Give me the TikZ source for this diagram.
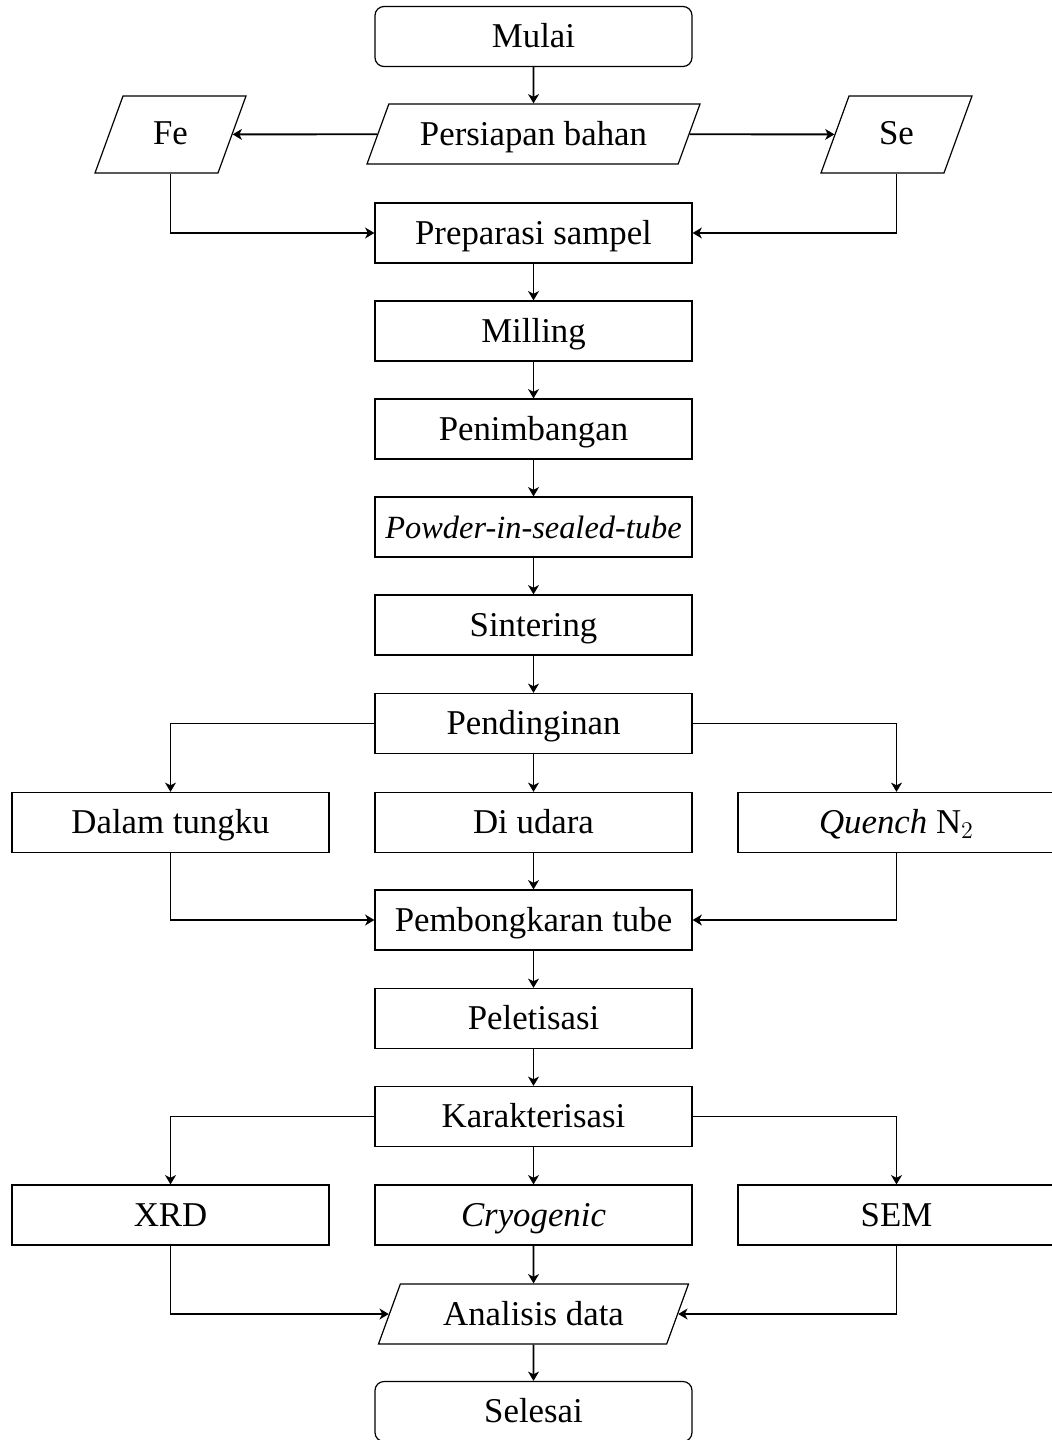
\documentclass[tikz,border=0pt]{standalone}
\usepackage{fontspec}
\setmainfont{Liberation Serif}
\usetikzlibrary{shapes.geometric,arrows.meta}
\tikzset{
  base/.style={draw, line width=0.6pt, inner xsep=0pt, inner ysep=0pt, align=center,
    font=\fontsize{17.4}{20}\selectfont, text height=20.5pt, text depth=9.5pt},
  proc/.style={base, rectangle, minimum width=158.5pt, minimum height=30pt},
  term/.style={proc, rounded corners=4.5pt},
  io/.style={base, trapezium, trapezium left angle=70, trapezium right angle=110,
    trapezium stretches body},
  iobig/.style={io, text height=24pt, text depth=14.5pt},
  conn/.style={line width=0.95pt, -{Stealth[length=4.6pt,width=5.4pt,inset=1.3pt]}}
}
\begin{document}
\begin{tikzpicture}[x=0.5pt,y=-0.5pt]
\useasboundingbox (0,0) rectangle (1052,1440);
\clip (0,0) rectangle (1052,1440);
\def\cx{533.5}
\def\lx{170.5}
\def\rx{896.5}
\node[term] (mulai) at (\cx,36.5) {Mulai};
\node[io, minimum width=166.5pt] (persiapan) at (\cx,134) {Persiapan bahan};
\node[iobig, minimum width=75.5pt] (fe) at (\lx,134.5) {Fe};
\node[iobig, minimum width=75.5pt] (se) at (\rx,134.5) {Se};
\node[proc] (prep) at (\cx,233) {Preparasi sampel};
\node[proc] (mill) at (\cx,331) {Milling};
\node[proc] (timbang) at (\cx,429) {Penimbangan};
\node[proc, font=\fontsize{16.2}{19}\selectfont\itshape] (powder) at (\cx,527) {Powder-in-sealed-tube};
\node[proc] (sinter) at (\cx,625) {Sintering};
\node[proc] (dingin) at (\cx,723.5) {Pendinginan};
\node[proc] (tungku) at (\lx,822.5) {Dalam tungku};
\node[proc] (udara) at (\cx,822.5) {Di udara};
\node[proc] (quench) at (\rx,822.5) {\itshape Quench\/\upshape{} N$_2$};
\node[proc] (bongkar) at (\cx,920) {Pembongkaran tube};
\node[proc] (pelet) at (\cx,1018.5) {Peletisasi};
\node[proc] (karak) at (\cx,1116.5) {Karakterisasi};
\node[proc] (xrd) at (\lx,1215) {XRD};
\node[proc] (cryo) at (\cx,1215) {\itshape Cryogenic};
\node[proc] (sem) at (\rx,1215) {SEM};
\node[io, minimum width=155pt] (analisis) at (\cx,1314) {Analisis data};
\node[term] (selesai) at (\cx,1411.5) {Selesai};

\draw[conn] (mulai) -- (persiapan);
\draw[conn] (persiapan) -- (fe);
\draw[conn] (persiapan) -- (se);
\draw[conn] (fe) |- (prep);
\draw[conn] (se) |- (prep);
\draw[conn] (prep) -- (mill);
\draw[conn] (mill) -- (timbang);
\draw[conn] (timbang) -- (powder);
\draw[conn] (powder) -- (sinter);
\draw[conn] (sinter) -- (dingin);
\draw[conn] (dingin) -| (tungku);
\draw[conn] (dingin) -- (udara);
\draw[conn] (dingin) -| (quench);
\draw[conn] (tungku) |- (bongkar);
\draw[conn] (udara) -- (bongkar);
\draw[conn] (quench) |- (bongkar);
\draw[conn] (bongkar) -- (pelet);
\draw[conn] (pelet) -- (karak);
\draw[conn] (karak) -| (xrd);
\draw[conn] (karak) -- (cryo);
\draw[conn] (karak) -| (sem);
\draw[conn] (xrd) |- (analisis);
\draw[conn] (cryo) -- (analisis);
\draw[conn] (sem) |- (analisis);
\draw[conn] (analisis) -- (selesai);
\end{tikzpicture}
\end{document}
